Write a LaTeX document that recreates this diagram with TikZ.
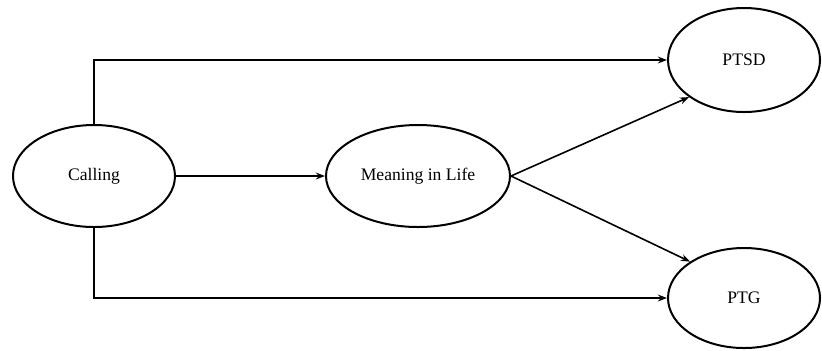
\documentclass[tikz,border=0pt]{standalone}
\usepackage{fontspec}
\setmainfont{Liberation Serif}
\usetikzlibrary{arrows.meta,positioning,shapes.geometric}

\begin{document}
\begin{tikzpicture}[
    x=0.5pt, y=-0.5pt,
    node distance=74.5pt,
    var/.style={
        draw,
        ellipse,
        line width=1pt,
        inner sep=0pt,
        minimum width=81pt,
        minimum height=51pt,
        font=\fontsize{8.8}{10}\selectfont
    },
    arrow/.style={-{Stealth[length=1.6mm,width=1.2mm]}, line width=0.8pt}
]
\useasboundingbox (0,0) rectangle (822,350);

\node[var] (calling) at (94,176) {Calling};
\node[var, minimum width=92pt, right=of calling] (meaning) {Meaning in Life};
\node[var, minimum width=76pt, minimum height=52pt] (ptsd) at (744,60) {PTSD};
\node[var, minimum width=76pt, minimum height=50pt] (ptg) at (744,298) {PTG};

\draw[arrow] (calling.north) |- (ptsd.west);
\draw[arrow] (calling.south) |- (ptg.west);
\draw[arrow] (calling.east) -- (meaning.west);
\draw[arrow] (meaning.east) -- (ptsd.214);
\draw[arrow] (meaning.east) -- (ptg.146);
\end{tikzpicture}
\end{document}
